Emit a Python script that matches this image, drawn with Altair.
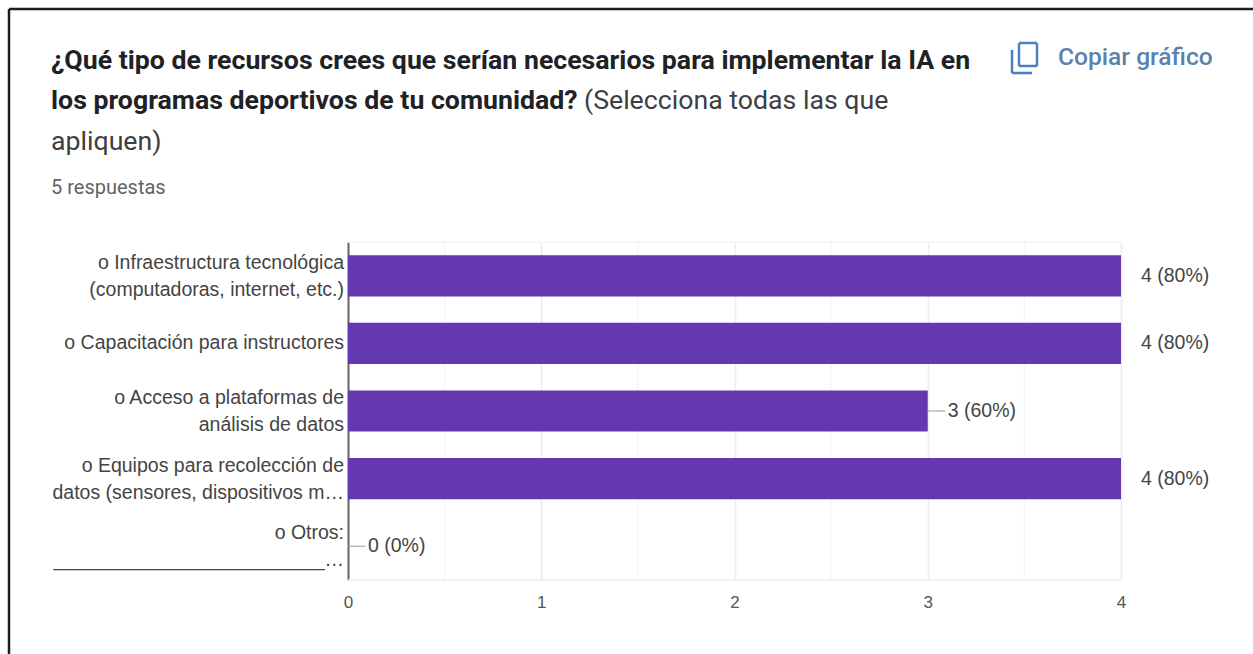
import altair as alt
import pandas as pd

# Survey results
categories = [
    "o Infraestructura tecnológica\n(computadoras, internet, etc.)",
    "o Capacitación para instructores",
    "o Acceso a plataformas de\nanálisis de datos",
    "o Equipos para recolección de\ndatos (sensores, dispositivos m…",
    "o Otros:\n_________________________…",
]
counts = [4, 4, 3, 4, 0]
labels = ["4 (80%)", "4 (80%)", "3 (60%)", "4 (80%)", "0 (0%)"]
major_ticks = [0, 1, 2, 3, 4]
minor_ticks = [0.5, 1.5, 2.5, 3.5]

PURPLE = "#6338b0"
LEFT, TOP, PLOT_W, PLOT_H = 348, 242, 773, 338
TOTAL_W, TOTAL_H = 1253, 654

df = pd.DataFrame({"categoria": categories, "n": counts, "etiqueta": labels})
one = alt.Chart(pd.DataFrame({"a": [0]}))

x_scale = alt.Scale(domain=[0, 4], nice=False)
y_scale = alt.Scale(domain=categories, paddingInner=0.39, paddingOuter=0.195)

x_axis = alt.Axis(
    values=major_ticks, format="d", grid=True, gridColor="#ececec", gridWidth=1.5,
    domain=False, ticks=False, labelFont="Liberation Sans", labelFontSize=17,
    labelColor="#555555", labelPadding=14, labelFlush=False, title=None,
)
y_axis = alt.Axis(
    labels=False, ticks=False, domain=True, domainColor="#666666", domainWidth=2,
    grid=False, title=None,
)
x_enc = alt.X("n:Q", scale=x_scale, axis=x_axis)
y_enc = alt.Y("categoria:N", sort=categories, scale=y_scale, axis=y_axis)


def px(x):
    return alt.value(x - LEFT)


def py(y):
    return alt.value(y - TOP)


def page_text(text, x, y, size, color, weight="normal", font="Roboto", align="left"):
    return one.mark_text(
        text=text, font=font, fontSize=size, fontWeight=weight, color=color,
        align=align, baseline="middle",
    ).encode(x=px(x), y=py(y))


def page_line(x1, y1, x2, y2, color, width):
    return one.mark_rule(color=color, strokeWidth=width).encode(
        x=px(x1), x2=px(x2), y=py(y1), y2=py(y2)
    )


def category_layer(condition, shift):
    # Names on two lines are lifted so that the pair stays centred on its bar
    return (
        alt.Chart(df)
        .transform_filter(condition)
        .mark_text(align="right", baseline="middle", font="Liberation Sans", fontSize=19.5,
                   color="#444444", lineBreak="\n", lineHeight=27, dy=shift)
        .encode(x=alt.value(-4), y=y_enc, text="categoria:N")
    )


# Card frame
frame = [
    page_line(9, 9, 1253, 9, "#1c1c1c", 2.5),
    page_line(9, 9, 9, TOTAL_H, "#1c1c1c", 2.5),
]

# Heading block
heading = [
    page_text("¿Qué tipo de recursos crees que serían necesarios para implementar la IA en",
              51, 61, 26.7, "#202124", "bold"),
    page_text("los programas deportivos de tu comunidad?", 51, 101, 26.7, "#202124", "bold"),
    page_text("(Selecciona todas las que", 584, 101, 26.7, "#3c4043"),
    page_text("apliquen)", 51, 142, 26.7, "#3c4043"),
    page_text("5 respuestas", 51, 188, 20, "#5f6368"),
]

# "Copy chart" button with its two-sheet icon
ICON = "#4a7fc0"
button = [
    page_line(1019, 43, 1037, 43, ICON, 2.5),
    page_line(1019, 66, 1037, 66, ICON, 2.5),
    page_line(1019, 43, 1019, 66, ICON, 2.5),
    page_line(1037, 43, 1037, 66, ICON, 2.5),
    page_line(1012, 50, 1012, 73, ICON, 2.5),
    page_line(1012, 73, 1032, 73, ICON, 2.5),
    page_text("Copiar gráfico", 1058, 58, 24.6, "#5b82ad", weight=500),
]

# Half-step gridlines are fainter than the whole-number ones
minor = (
    alt.Chart(pd.DataFrame({"v": minor_ticks}))
    .mark_rule(color="#f6f6f6", strokeWidth=1.5)
    .encode(x=alt.X("v:Q", scale=x_scale, axis=x_axis))
)

bars = alt.Chart(df).mark_bar(color=PURPLE).encode(x=x_enc, y=y_enc)

# Short leader from a bar's end to its value label; full-length bars have none
leaders = (
    alt.Chart(df)
    .transform_filter("datum.n < 4")
    .transform_calculate(fin="datum.n + 0.09")
    .mark_rule(color="#999999", strokeWidth=1)
    .encode(x=x_enc, x2="fin:Q", y=alt.Y("categoria:N", sort=categories, scale=y_scale,
                                         axis=y_axis, bandPosition=0.5))
)

values = (
    alt.Chart(df)
    .mark_text(align="left", baseline="middle", font="Liberation Sans", fontSize=19.5,
               color="#444444", dx=20)
    .encode(x=x_enc, y=y_enc, text="etiqueta:N")
)

plot_edges = [
    page_line(LEFT, TOP, LEFT + PLOT_W, TOP, "#f6f6f6", 1.5),
    page_line(LEFT, TOP + PLOT_H, LEFT + PLOT_W, TOP + PLOT_H, "#ececec", 1.5),
]

chart = alt.layer(
    minor, *plot_edges, bars, leaders,
    category_layer("indexof(datum.categoria, '\\n') >= 0", -13),
    category_layer("indexof(datum.categoria, '\\n') < 0", 0),
    values, *frame, *heading, *button
).properties(
    width=PLOT_W,
    height=PLOT_H,
    background="#ffffff",
    padding={"left": LEFT, "top": TOP, "right": TOTAL_W - LEFT - PLOT_W, "bottom": TOTAL_H - TOP - PLOT_H},
    autosize=alt.AutoSizeParams(type="none"),
).configure_view(stroke=None)

chart.save("out.html", embed_options={"renderer": "svg", "actions": False})
